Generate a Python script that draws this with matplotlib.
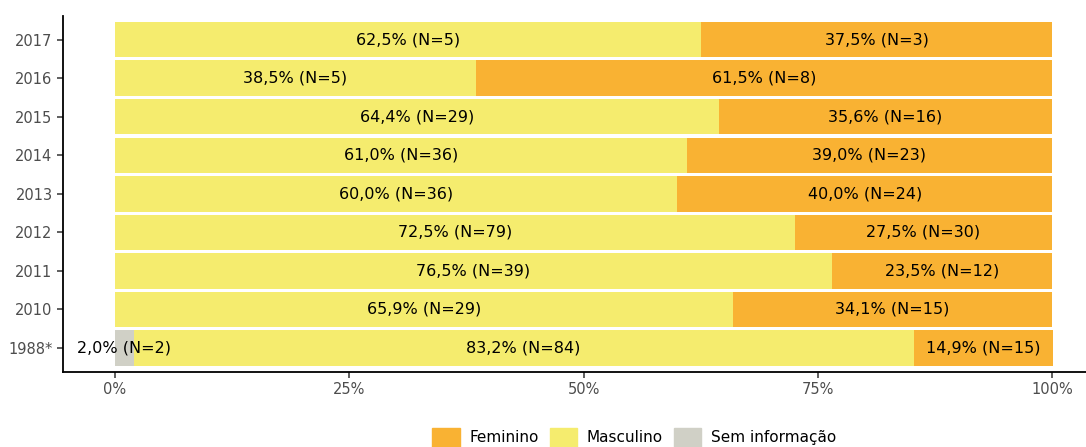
import numpy as np
import matplotlib.pyplot as plt
from matplotlib.patches import Patch

plt.rcParams['font.family'] = ['DejaVu Sans']

anos = ['2017', '2016', '2015', '2014', '2013', '2012', '2011', '2010', '1988*']
masc = [62.5, 38.5, 64.4, 61.0, 60.0, 72.5, 76.5, 65.9, 83.2]
masc_n = [5, 5, 29, 36, 36, 79, 39, 29, 84]
fem = [37.5, 61.5, 35.6, 39.0, 40.0, 27.5, 23.5, 34.1, 14.9]
fem_n = [3, 8, 16, 23, 24, 30, 12, 15, 15]
sem = [0, 0, 0, 0, 0, 0, 0, 0, 2.0]
sem_n = [0, 0, 0, 0, 0, 0, 0, 0, 2]

c_fem = '#F9B233'
c_masc = '#F5EC6E'
c_sem = '#D0D0C6'

def fmt(v, n):
    return f"{v:.1f}".replace('.', ',') + f"% (N={n})"

fig = plt.figure(figsize=(10.86, 4.47), dpi=100)
ax = fig.add_axes([0.058, 0.168, 0.942, 0.7967])

y = np.arange(len(anos))[::-1]
h = 0.92
sem_a = np.array(sem)
masc_a = np.array(masc)
fem_a = np.array(fem)

ax.barh(y, sem_a, height=h, color=c_sem)
ax.barh(y, masc_a, left=sem_a, height=h, color=c_masc)
ax.barh(y, fem_a, left=sem_a + masc_a, height=h, color=c_fem)

fs = 11.5
for i in range(len(anos)):
    if sem[i] > 0:
        ax.text(sem[i] / 2, y[i], fmt(sem[i], sem_n[i]), ha='center', va='center', fontsize=fs)
    ax.text(sem[i] + masc[i] / 2, y[i], fmt(masc[i], masc_n[i]), ha='center', va='center', fontsize=fs)
    ax.text(sem[i] + masc[i] + fem[i] / 2, y[i], fmt(fem[i], fem_n[i]), ha='center', va='center', fontsize=fs)

ax.set_xlim(-5.55, 103.6)
ax.set_ylim(-0.62, len(anos) - 1 + 0.62)
ax.set_yticks(y)
ax.set_yticklabels(anos)
ax.set_xticks([0, 25, 50, 75, 100])
ax.set_xticklabels(['0%', '25%', '50%', '75%', '100%'])
ax.tick_params(colors='#333333', labelcolor='#4D4D4D', labelsize=10.5, length=4, width=1.1)
for s in ['top', 'right']:
    ax.spines[s].set_visible(False)
for s in ['left', 'bottom']:
    ax.spines[s].set_linewidth(1.3)

handles = [Patch(color=c_fem, label='Feminino'),
           Patch(color=c_masc, label='Masculino'),
           Patch(color=c_sem, label='Sem informação')]
fig.legend(handles=handles, loc='lower center', bbox_to_anchor=(0.584, -0.03), ncol=3,
           frameon=False, fontsize=11, handlelength=1.8, handleheight=1.5,
           columnspacing=0.7, handletextpad=0.65)

fig.savefig('out.png', dpi=100)
